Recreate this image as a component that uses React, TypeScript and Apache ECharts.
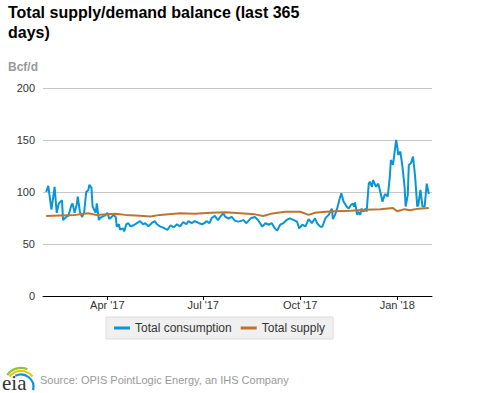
import React, { useEffect, useRef } from "react";
import * as echarts from "echarts";

// Day offsets from 1 Feb 2017
const startDate = "2017-02-01";
const tickDays = [59, 150, 242, 334];
const tickLabels = ["Apr '17", "Jul '17", "Oct '17", "Jan '18"];
const yTicks = [0, 50, 100, 150, 200];

const consumptionDays = [
  1, 3, 6, 9, 11, 13, 14, 16, 17, 20, 22, 25, 26, 28, 30, 31, 33, 35, 37, 39,
  41, 42, 44, 45, 48, 49, 51, 52, 54, 57, 59, 61, 63, 65, 67, 68, 70, 71, 74, 75,
  77, 79, 81, 84, 87, 90, 93, 95, 98, 101, 104, 106, 109, 112, 116, 119, 122, 125, 128, 131,
  134, 136, 139, 142, 146, 149, 151, 153, 156, 158, 161, 164, 166, 169, 171, 174, 177, 180, 183, 185,
  188, 191, 195, 199, 202, 206, 209, 212, 215, 218, 220, 223, 226, 229, 232, 236, 239, 241, 244, 247,
  250, 253, 256, 258, 261, 263, 266, 269, 272, 273, 275, 277, 279, 281, 283, 286, 288, 290, 292, 293,
  294, 296, 297, 299, 300, 302, 304, 305, 307, 308, 310, 311, 314, 316, 318, 320, 322, 323, 325, 327,
  328, 330, 331, 333, 334, 335, 337, 339, 341, 342, 344, 345, 347, 349, 351, 353, 354, 356, 358, 360,
  362, 364,
];
const consumptionValues = [
  100, 106, 83, 105, 80, 89, 90, 92, 73, 76, 77, 87.5, 89, 80, 88, 95.5, 81, 76, 80, 100,
  102, 107, 104, 86, 80, 89, 73, 75, 76, 77.5, 80, 74, 76, 78, 76, 66.6, 69, 64, 65, 62,
  69, 70, 67, 68, 70, 72, 69, 70, 67, 70, 72, 69, 67, 65.7, 63.5, 68, 66, 69, 67, 71,
  69, 72, 70, 72, 70, 69, 70, 72, 70, 75, 77, 73, 76, 79.5, 76, 74.5, 76, 72.5, 71.5, 72,
  73, 70, 74.7, 76, 73, 66.7, 70, 68.5, 70, 65, 62.8, 68.5, 70, 73, 74.7, 73, 71.5, 65, 68.5, 67,
  74, 70, 74.7, 70, 66.7, 66.7, 75, 78, 84, 74, 78, 84, 92, 98.7, 91, 86, 84, 87.5, 89, 86,
  90, 78, 81, 78, 84, 81, 84, 81, 108, 110, 105, 111.5, 105, 108, 100, 90.7, 97, 98, 95.5, 114.7,
  130.8, 126, 134, 150, 144, 135.6, 138.8, 124, 105, 86, 97, 126, 127.6, 134, 114.7, 86, 87.5, 102, 86, 86,
  108, 98,
];

const supplyDays = [
  1, 14, 29, 41, 48, 59, 67, 76, 86, 100, 109, 128, 142, 157, 171, 185, 199, 207, 214, 228,
  242, 250, 256, 266, 275, 290, 304, 318, 330, 334, 341, 346, 354, 364,
];
const supplyValues = [
  77, 77.5, 78, 79.5, 78, 78.5, 79, 78, 77.5, 76.5, 78, 79.5, 79, 80, 80.5, 79.5, 78.5, 77, 79, 81,
  81, 78, 80, 81, 81.5, 82, 83, 83.5, 84.5, 81.5, 83.5, 82.5, 84, 84.5,
];

const seriesNames = ["Total consumption", "Total supply"];
const seriesColors = ["#0a96d6", "#bf7330"];

export default function App() {
  const ref = useRef<HTMLDivElement>(null);
  useEffect(() => {
    if (!ref.current) return;
    const chart = echarts.init(ref.current, null, { renderer: "svg" });
    const consumption = consumptionDays.map((d, i) => [d, consumptionValues[i]]);
    const supply = supplyDays.map((d, i) => [d, supplyValues[i]]);
    chart.setOption({
      animation: false,
      title: {
        text: "Total supply/demand balance (last 365\ndays)",
        left: 8,
        top: 2,
        padding: 0,
        textStyle: {
          fontFamily: "Liberation Sans, Arial, sans-serif",
          fontSize: 16,
          fontWeight: "bold",
          color: "#000",
          lineHeight: 20,
        },
      },
      grid: { left: 43, right: 45, top: 88, bottom: 97 },
      legend: {
        left: 106,
        top: 317,
        data: seriesNames,
        backgroundColor: "#f0f0f0",
        borderColor: "#dcdcdc",
        borderWidth: 1,
        padding: [5, 8, 5, 8],
        itemWidth: 16,
        itemHeight: 3,
        itemGap: 9,
        icon: "rect",
        textStyle: {
          fontFamily: "Liberation Sans, Arial, sans-serif",
          fontSize: 12,
          color: "#333",
        },
      },
      xAxis: {
        type: "value",
        min: -2,
        max: 367,
        splitLine: { show: false },
        axisLine: { show: true, lineStyle: { color: "#000", width: 1 } },
        axisTick: {
          show: true,
          customValues: tickDays,
          length: 4,
          lineStyle: { color: "#000" },
        },
        axisLabel: {
          customValues: tickDays,
          formatter: (v: number) => {
            const i = tickDays.indexOf(Math.round(v));
            return i >= 0 ? tickLabels[i] : "";
          },
          fontFamily: "Liberation Sans, Arial, sans-serif",
          fontSize: 11,
          color: "#333",
          margin: 3,
        },
      },
      yAxis: {
        type: "value",
        min: yTicks[0],
        max: yTicks[yTicks.length - 1],
        interval: 50,
        axisLine: { show: false },
        axisTick: { show: false },
        splitLine: { lineStyle: { color: "#c8c8c8", width: 1 } },
        axisLabel: {
          fontFamily: "Liberation Sans, Arial, sans-serif",
          fontSize: 11,
          color: "#333",
          margin: 8,
        },
      },
      series: [
        {
          name: seriesNames[0],
          type: "line",
          data: consumption,
          showSymbol: false,
          color: seriesColors[0],
          lineStyle: { width: 2, color: seriesColors[0] },
          z: 2,
        },
        {
          name: seriesNames[1],
          type: "line",
          data: supply,
          showSymbol: false,
          color: seriesColors[1],
          lineStyle: { width: 2, color: seriesColors[1] },
          z: 3,
        },
      ],
      graphic: [
        {
          type: "text",
          left: 8,
          top: 61,
          style: {
            text: "Bcf/d",
            font: "bold 12px 'Liberation Sans', Arial, sans-serif",
            fill: "#999",
          },
        },
        {
          type: "text",
          left: 40,
          top: 374,
          style: {
            text: "Source: OPIS PointLogic Energy, an IHS Company",
            font: "11px 'Liberation Sans', Arial, sans-serif",
            fill: "#999",
          },
        },
        {
          type: "arc",
          shape: { cx: 21, cy: 385, r: 17, startAngle: Math.PI * 1.2, endAngle: Math.PI * 1.62 },
          style: { stroke: "#8cc63f", lineWidth: 2.2, fill: "none" },
        },
        {
          type: "arc",
          shape: { cx: 21, cy: 386, r: 15, startAngle: Math.PI * 1.22, endAngle: Math.PI * 1.78 },
          style: { stroke: "#f2c500", lineWidth: 2.2, fill: "none" },
        },
        {
          type: "arc",
          shape: { cx: 21, cy: 387, r: 12.5, startAngle: Math.PI * 1.35, endAngle: Math.PI * 2.08 },
          style: { stroke: "#0a96d6", lineWidth: 2.2, fill: "none" },
        },
        {
          type: "text",
          left: 2,
          top: 372,
          style: {
            text: "eia",
            font: "21px 'Liberation Serif', 'DejaVu Serif', serif",
            fill: "#333",
          },
        },
      ],
    });
    return () => chart.dispose();
  }, []);
  return (
    <div
      ref={ref}
      style={{ position: "fixed", left: 0, top: 0, width: 477, height: 393, background: "#fff" }}
    />
  );
}
